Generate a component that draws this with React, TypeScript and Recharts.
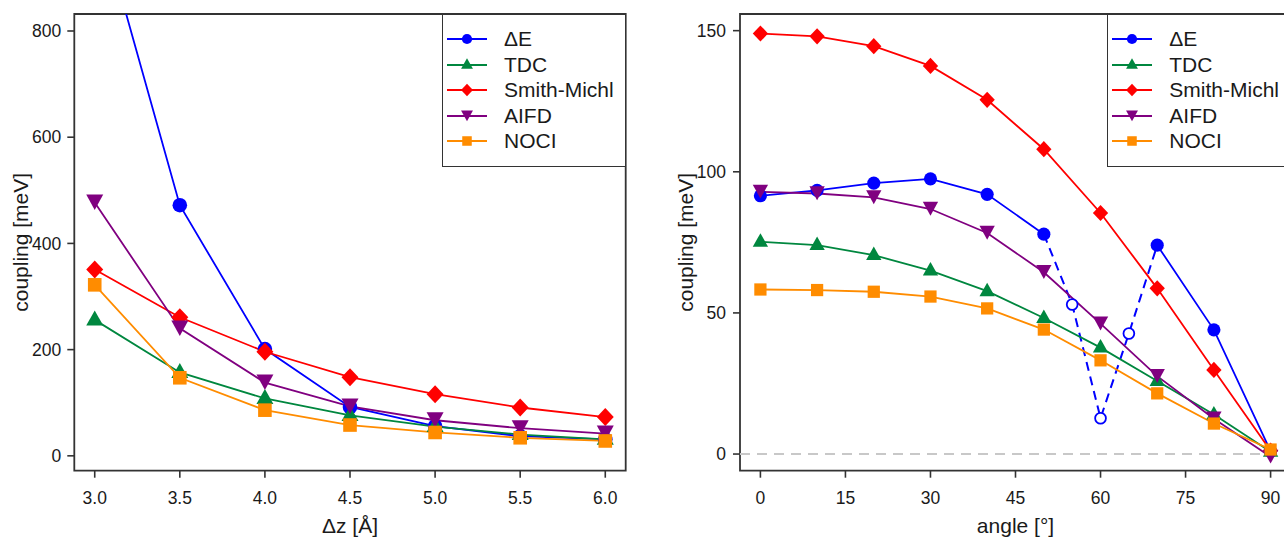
import React from "react";
import {
  LineChart,
  Line,
  XAxis,
  YAxis,
  ReferenceArea,
  ReferenceLine,
  Legend,
} from "recharts";

const FONT = '"Liberation Sans", Arial, Helvetica, sans-serif';
const INK = "#333333";
const TEXT = "#1a1a1a";

// left panel: coupling vs stacking distance
const dzValues = [3.0, 3.5, 4.0, 4.5, 5.0, 5.5, 6.0];
const dzDeltaE = [1043, 472, 201, 92, 56, 37, 31];
const dzTDC = [256, 157, 108, 76, 55, 40, 31];
const dzSmithMichl = [351, 261, 196, 148, 116, 91, 73];
const dzAIFD = [477, 240, 138, 93, 67, 52, 42];
const dzNOCI = [322, 147, 86, 58, 44, 34, 28];
const dzTicks = [3.0, 3.5, 4.0, 4.5, 5.0, 5.5, 6.0];
const dzCouplingTicks = [0, 200, 400, 600, 800];

// right panel: coupling vs rotation angle
const angles = [0, 10, 20, 30, 40, 50, 60, 70, 80, 90];
const angDeltaE = [91.5, 93.4, 96, 97.5, 92, 77.9, null, 74, 44, 1];
const gapAngles = [50, 55, 60, 65, 70];
const gapDeltaE = [77.9, 53, 12.7, 42.7, 74];
const angTDC = [75.2, 74, 70.5, 65, 57.7, 48.2, 37.7, 25.9, 14, 0.8];
const angSmithMichl = [149, 148, 144.5, 137.5, 125.5, 108, 85.4, 58.7, 29.8, 1.2];
const angAIFD = [92.9, 92.3, 90.9, 86.8, 78.3, 64.4, 46.2, 27.6, 12.5, -1];
const angNOCI = [58.3, 58.1, 57.5, 55.8, 51.6, 44.1, 33.2, 21.5, 10.8, 1.6];
const angleTicks = [0, 15, 30, 45, 60, 75, 90];
const angCouplingTicks = [0, 50, 100, 150];

type Shape = "circle" | "triUp" | "diamond" | "triDown" | "square";

const SERIES: { name: string; color: string; shape: Shape }[] = [
  { name: "ΔE", color: "#0000ff", shape: "circle" },
  { name: "TDC", color: "#00873f", shape: "triUp" },
  { name: "Smith-Michl", color: "#ff0000", shape: "diamond" },
  { name: "AIFD", color: "#800080", shape: "triDown" },
  { name: "NOCI", color: "#ff8c00", shape: "square" },
];

const rows = (xs: number[], ys: (number | null)[]) =>
  xs.map((x, i) => ({ x, y: ys[i] }));

function Marker({ shape, cx, cy, color, s = 1, open = false }: any) {
  const p = (pts: number[][]) =>
    pts.map(([dx, dy]) => `${cx + dx * s},${cy + dy * s}`).join(" ");
  switch (shape) {
    case "circle":
      return open ? (
        <circle cx={cx} cy={cy} r={6 * s} fill="#fff" stroke={color} strokeWidth={1.8} />
      ) : (
        <circle cx={cx} cy={cy} r={7.3 * s} fill={color} />
      );
    case "triUp":
      return <polygon points={p([[0, -9.5], [-8.5, 5.5], [8.5, 5.5]])} fill={color} />;
    case "diamond":
      return <polygon points={p([[0, -9], [8.5, 0], [0, 9], [-8.5, 0]])} fill={color} />;
    case "triDown":
      return <polygon points={p([[-8.5, -8], [8.5, -8], [0, 7.5]])} fill={color} />;
    default:
      return (
        <rect x={cx - 6.8 * s} y={cy - 6.8 * s} width={13.6 * s} height={13.6 * s} fill={color} />
      );
  }
}

const dotFor = (shape: Shape, color: string, s: number, open?: (i: number) => boolean) =>
  (props: any) => {
    const { cx, cy, index } = props;
    const v = props.payload ? props.payload.y : null;
    if (v == null || !Number.isFinite(cx) || !Number.isFinite(cy)) return <g key={`d${index}`} />;
    if (open && !open(index)) return <g key={`d${index}`} />;
    return (
      <Marker key={`d${index}`} shape={shape} cx={cx} cy={cy} color={color} s={s} open={!!open} />
    );
  };

function LegendBox() {
  return (
    <div
      style={{
        width: 184,
        height: 153,
        boxSizing: "border-box",
        border: `1.8px solid ${INK}`,
        background: "#fff",
        position: "relative",
        fontFamily: FONT,
      }}
    >
      {SERIES.map((ser, i) => (
        <div
          key={ser.name}
          style={{
            position: "absolute",
            left: 2,
            top: 24 + 25.5 * i - 12,
            height: 24,
            display: "flex",
            alignItems: "center",
          }}
        >
          <svg width={46} height={24} style={{ overflow: "visible" }}>
            <line x1={2} x2={42} y1={12} y2={12} stroke={ser.color} strokeWidth={1.8} />
            <Marker shape={ser.shape} cx={22} cy={12} color={ser.color} s={0.7} />
          </svg>
          <span style={{ marginLeft: 13, fontSize: 21, color: TEXT, whiteSpace: "nowrap" }}>
            {ser.name}
          </span>
        </div>
      ))}
    </div>
  );
}

function XTitle({ viewBox, text }: any) {
  if (!viewBox) return null;
  return (
    <text
      x={viewBox.x + viewBox.width / 2}
      y={viewBox.y + 62}
      textAnchor="middle"
      fontSize={21}
      fontFamily={FONT}
      fill={TEXT}
    >
      {text}
    </text>
  );
}

function YTitle({ viewBox, text, cxOffset }: any) {
  if (!viewBox) return null;
  const cx = viewBox.x + cxOffset;
  const cy = viewBox.y + viewBox.height / 2;
  return (
    <text
      x={cx}
      y={cy}
      transform={`rotate(-90, ${cx}, ${cy})`}
      textAnchor="middle"
      dominantBaseline="central"
      fontSize={21}
      fontFamily={FONT}
      fill={TEXT}
    >
      {text}
    </text>
  );
}

const tickStyle = { fill: TEXT, fontSize: 17.5, fontFamily: FONT };
const tickLine = { stroke: INK, strokeWidth: 1.6 };

function DistancePanel() {
  const xDom: [number, number] = [2.88, 6.12];
  const yDom: [number, number] = [-28, 832];
  const series = [dzDeltaE, dzTDC, dzSmithMichl, dzAIFD, dzNOCI];
  return (
    <LineChart width={640} height={537} margin={{ top: 14, right: 14.3, bottom: 36.3, left: 0 }}>
      <XAxis
        type="number"
        dataKey="x"
        domain={xDom}
        allowDataOverflow
        ticks={dzTicks}
        interval={0}
        tickFormatter={(v: number) => v.toFixed(1)}
        axisLine={false}
        tickLine={tickLine}
        tickSize={7}
        tickMargin={14}
        tick={tickStyle}
        height={30}
        label={<XTitle text="Δz [Å]" />}
      />
      <YAxis
        type="number"
        domain={yDom}
        allowDataOverflow
        ticks={dzCouplingTicks}
        interval={0}
        axisLine={false}
        tickLine={tickLine}
        tickSize={7}
        tickMargin={6}
        tick={tickStyle}
        width={74.3}
        label={<YTitle text="coupling [meV]" cxOffset={21} />}
      />
      <ReferenceArea x1={xDom[0]} x2={xDom[1]} y1={yDom[0]} y2={yDom[1]} fill="none" stroke={INK} strokeWidth={1.8} />
      {SERIES.map((ser, i) => (
        <Line
          key={ser.name}
          data={rows(dzValues, series[i])}
          dataKey="y"
          name={ser.name}
          stroke={ser.color}
          strokeWidth={1.8}
          dot={dotFor(ser.shape, ser.color, 1)}
          activeDot={false}
          isAnimationActive={false}
        />
      ))}
      <Legend
        layout="vertical"
        align="center"
        verticalAlign="middle"
        content={() => <LegendBox />}
        wrapperStyle={{ left: 442, top: 14, width: 184, height: 153 }}
      />
    </LineChart>
  );
}

function AnglePanel() {
  const xDom: [number, number] = [-3.6, 93.6];
  const yDom: [number, number] = [-5.9, 155.9];
  const series = [angDeltaE, angTDC, angSmithMichl, angAIFD, angNOCI];
  const blue = SERIES[0].color;
  return (
    <LineChart width={660} height={537} margin={{ top: 14, right: 9, bottom: 36.3, left: 0 }}>
      <XAxis
        type="number"
        dataKey="x"
        domain={xDom}
        allowDataOverflow
        ticks={angleTicks}
        interval={0}
        axisLine={false}
        tickLine={tickLine}
        tickSize={7}
        tickMargin={14}
        tick={tickStyle}
        height={30}
        label={<XTitle text="angle [°]" />}
      />
      <YAxis
        type="number"
        domain={yDom}
        allowDataOverflow
        ticks={angCouplingTicks}
        interval={0}
        axisLine={false}
        tickLine={tickLine}
        tickSize={7}
        tickMargin={7}
        tick={tickStyle}
        width={100}
        label={<YTitle text="coupling [meV]" cxOffset={46} />}
      />
      <ReferenceLine y={0} stroke="#c8c8c8" strokeWidth={2} strokeDasharray="10 7" />
      <ReferenceArea x1={xDom[0]} x2={xDom[1]} y1={yDom[0]} y2={yDom[1]} fill="none" stroke={INK} strokeWidth={1.8} />
      <Line
        data={rows(gapAngles, gapDeltaE)}
        dataKey="y"
        name="ΔE (gap)"
        legendType="none"
        stroke={blue}
        strokeWidth={2}
        strokeDasharray="9 6"
        dot={dotFor("circle", blue, 0.9, (i) => i > 0 && i < gapAngles.length - 1)}
        activeDot={false}
        isAnimationActive={false}
      />
      {SERIES.map((ser, i) => (
        <Line
          key={ser.name}
          data={rows(angles, series[i])}
          dataKey="y"
          name={ser.name}
          stroke={ser.color}
          strokeWidth={1.8}
          connectNulls={false}
          dot={dotFor(ser.shape, ser.color, 0.9)}
          activeDot={false}
          isAnimationActive={false}
        />
      ))}
      <Legend
        layout="vertical"
        align="center"
        verticalAlign="middle"
        content={() => <LegendBox />}
        wrapperStyle={{ left: 467.3, top: 14, width: 184, height: 153 }}
      />
    </LineChart>
  );
}

export default function App() {
  return (
    <div
      style={{
        position: "absolute",
        left: 0,
        top: 0,
        width: 1284,
        height: 537,
        overflow: "hidden",
        background: "#fff",
      }}
    >
      <div style={{ position: "absolute", left: 0, top: 0 }}>
        <DistancePanel />
      </div>
      <div style={{ position: "absolute", left: 640, top: 0 }}>
        <AnglePanel />
      </div>
    </div>
  );
}
